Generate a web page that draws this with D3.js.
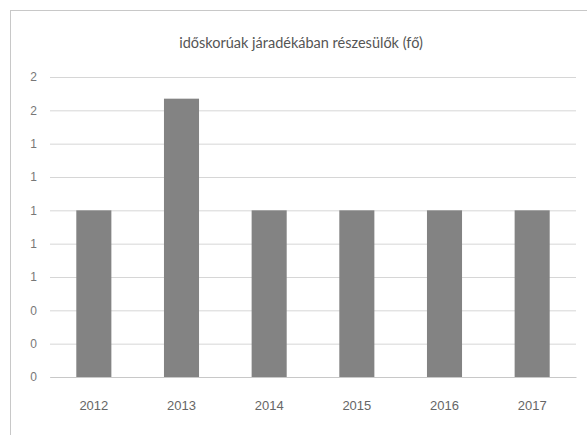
<!DOCTYPE html>
<html>
<head>
<meta charset="utf-8">
<script src="https://cdn.jsdelivr.net/npm/d3@7"></script>
<style>
  body { margin: 0; background: #fff; }
  svg { font-family: "Lato", "Liberation Sans", sans-serif; }
</style>
</head>
<body>
<svg id="chart"></svg>
<script>
const title = "időskorúak járadékában részesülők (fő)";
const years = ["2012", "2013", "2014", "2015", "2016", "2017"];
const values = [1, 1.67, 1, 1, 1, 1];
const yTicks = [0, 0.2, 0.4, 0.6, 0.8, 1, 1.2, 1.4, 1.6, 1.8];

const width = 587;
const height = 435;
const margin = { top: 77, left: 50, bottom: 58, right: 11 };

let svg = d3.select("#chart")
            .attr("width", width)
            .attr("height", height);

// chart frame
svg.append("rect")
   .attr("x", 10.5)
   .attr("y", 10.5)
   .attr("width", width)
   .attr("height", height)
   .attr("fill", "#fff")
   .attr("stroke", "#c8c8c8");

// scales
let xScale = d3.scaleBand()
               .domain(years)
               .range([margin.left, width - margin.right])
               .paddingInner(0.6)
               .paddingOuter(0.3);

let yScale = d3.scaleLinear()
               .domain([0, 1.8])
               .range([height - margin.bottom, margin.top]);

// gridlines + y axis labels
let yAxis = d3.axisLeft(yScale)
              .tickValues(yTicks)
              .tickFormat(d3.format(".0f"))
              .tickSize(-(width - margin.left - margin.right))
              .tickPadding(13);

let gy = svg.append("g")
            .attr("transform", `translate(${margin.left},0)`)
            .call(yAxis);
gy.select(".domain").remove();
gy.selectAll("line").attr("stroke", "#d6d6d6");
gy.selectAll("text")
  .attr("fill", "#777")
  .style("font-size", "12px");

// bars
svg.selectAll(".bar")
   .data(values)
   .enter()
   .append("rect")
     .attr("class", "bar")
     .attr("x", (d, i) => xScale(years[i]))
     .attr("y", d => yScale(d))
     .attr("width", xScale.bandwidth())
     .attr("height", d => yScale(0) - yScale(d))
     .attr("fill", "#838383");

// x axis
let xAxis = d3.axisBottom(xScale)
              .tickSize(0)
              .tickPadding(24);

let gx = svg.append("g")
            .attr("transform", `translate(0,${yScale(0)})`)
            .call(xAxis);
gx.select(".domain").attr("stroke", "#c8c8c8");
gx.selectAll("text")
  .attr("fill", "#666")
  .style("font-size", "13px");

// title
svg.append("text")
   .attr("x", 301)
   .attr("y", 48)
   .attr("text-anchor", "middle")
   .attr("fill", "#555")
   .style("font-size", "14.5px")
   .text(title);
</script>
</body>
</html>
